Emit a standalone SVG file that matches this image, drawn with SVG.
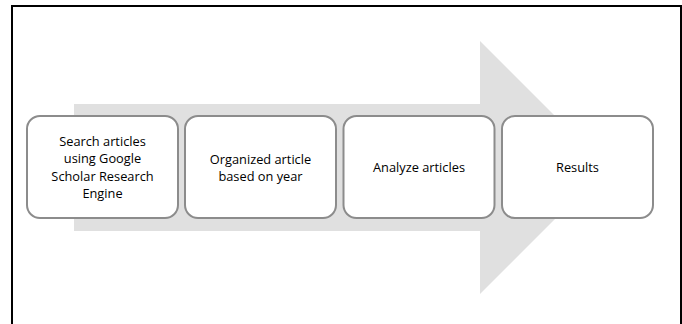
<svg xmlns="http://www.w3.org/2000/svg" width="682" height="324" viewBox="0 0 682 324">
<style>
.box{fill:#ffffff;stroke:#8c8c8c;stroke-width:2}
.t{font-family:"Open Sans","Liberation Sans",Arial,sans-serif;font-size:12.8px;fill:#000;text-anchor:middle}
</style>
<rect x="0" y="0" width="682" height="324" fill="#ffffff"/>
<path d="M12,326 V6 H681 V326" fill="none" stroke="#000" stroke-width="2"/>
<g id="connectors">
<polygon points="74,104 480,104 480,41 606.5,167.5 480,294 480,231 74,231" fill="#e0e0e0"/>
</g>
<g id="n1">
<rect class="box" x="27" y="116" width="151" height="102" rx="13"/>
<text class="t" x="102.5" y="145.5">Search articles</text>
<text class="t" x="102.5" y="163">using Google</text>
<text class="t" x="102.5" y="180.5">Scholar Research</text>
<text class="t" x="102.5" y="198">Engine</text>
</g>
<g id="n2">
<rect class="box" x="185" y="116" width="151" height="102" rx="13"/>
<text class="t" x="260.5" y="163.5">Organized article</text>
<text class="t" x="260.5" y="181">based on year</text>
</g>
<g id="n3">
<rect class="box" x="343.5" y="116" width="151" height="102" rx="13"/>
<text class="t" x="419" y="171.5">Analyze articles</text>
</g>
<g id="n4">
<rect class="box" x="502" y="116" width="151" height="102" rx="13"/>
<text class="t" x="577.5" y="171.5">Results</text>
</g>
</svg>
